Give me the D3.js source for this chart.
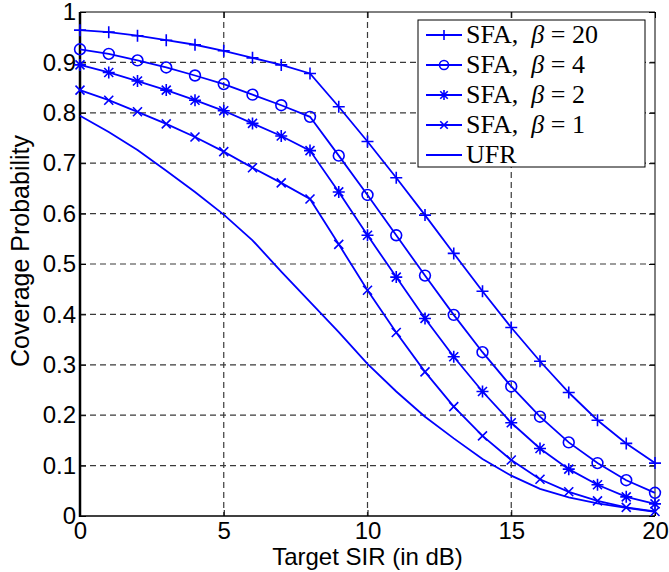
<!DOCTYPE html>
<html>
<head>
<meta charset="utf-8">
<script src="https://cdn.jsdelivr.net/npm/d3@7"></script>
<style>
  body { margin: 0; background: #fff; }
  svg { display: block; }
</style>
</head>
<body>
<script>
'use strict';

// target SIR in dB
const sir = [0, 1, 2, 3, 4, 5, 6, 7, 8, 9, 10, 11, 12, 13, 14, 15, 16, 17, 18, 19, 20];

// coverage probability for each scheme
const sfaBeta20 = [0.964, 0.960, 0.953, 0.944, 0.935, 0.923, 0.909, 0.895, 0.878, 0.812, 0.743, 0.671, 0.597, 0.521, 0.446, 0.374, 0.307, 0.245, 0.190, 0.144, 0.105];
const sfaBeta4  = [0.926, 0.917, 0.904, 0.890, 0.874, 0.857, 0.836, 0.815, 0.792, 0.715, 0.637, 0.557, 0.477, 0.399, 0.325, 0.257, 0.197, 0.146, 0.105, 0.071, 0.046];
const sfaBeta2  = [0.895, 0.880, 0.863, 0.845, 0.825, 0.804, 0.779, 0.754, 0.725, 0.643, 0.557, 0.474, 0.392, 0.316, 0.247, 0.185, 0.134, 0.093, 0.062, 0.038, 0.024];
const sfaBeta1  = [0.845, 0.825, 0.802, 0.778, 0.752, 0.723, 0.691, 0.661, 0.629, 0.539, 0.448, 0.364, 0.286, 0.217, 0.159, 0.111, 0.073, 0.048, 0.030, 0.017, 0.009];
const ufr       = [0.794, 0.762, 0.726, 0.685, 0.643, 0.598, 0.547, 0.485, 0.425, 0.365, 0.302, 0.247, 0.197, 0.154, 0.113, 0.080, 0.054, 0.037, 0.025, 0.016, 0.008];

const seriesNames = ['SFA, \u03b2 = 20', 'SFA, \u03b2 = 4', 'SFA, \u03b2 = 2', 'SFA, \u03b2 = 1', 'UFR'];
const seriesMarks = ['plus', 'circle', 'star', 'cross', 'none'];
const seriesVals  = [sfaBeta20, sfaBeta4, sfaBeta2, sfaBeta1, ufr];

const xTicks = [0, 5, 10, 15, 20];
const yTicks = [0, 0.1, 0.2, 0.3, 0.4, 0.5, 0.6, 0.7, 0.8, 0.9, 1];

(function() {

  const W = 669, H = 572;
  const pLeft = 80, pRight = 655, pTop = 12, pBottom = 516;
  const blue = '#0000ff';

  let svg = d3.select('body').append('svg')
    .attr('width', W)
    .attr('height', H);

  let x = d3.scaleLinear().domain([0, 20]).range([pLeft, pRight]);
  let y = d3.scaleLinear().domain([0, 1]).range([pBottom, pTop]);

  // dashed grid
  let grid = svg.append('g');
  grid.selectAll('.gx')
    .data(xTicks.filter((d) => d > 0 && d < 20))
    .enter().append('line')
    .attr('x1', (d) => x(d)).attr('x2', (d) => x(d))
    .attr('y1', pTop).attr('y2', pBottom)
    .attr('stroke', '#3a3a3a').attr('stroke-width', 1.2)
    .attr('stroke-dasharray', '6,4');
  grid.selectAll('.gy')
    .data(yTicks.filter((d) => d > 0 && d < 1))
    .enter().append('line')
    .attr('x1', pLeft).attr('x2', pRight)
    .attr('y1', (d) => y(d)).attr('y2', (d) => y(d))
    .attr('stroke', '#3a3a3a').attr('stroke-width', 1.2)
    .attr('stroke-dasharray', '6,4');

  // axes with inward ticks
  let xAxis = d3.axisBottom(x).tickValues(xTicks).tickSize(-6).tickPadding(8).tickFormat(d3.format('d'));
  let gx = svg.append('g').attr('transform', `translate(0,${pBottom})`).call(xAxis);
  let yAxis = d3.axisLeft(y).tickValues(yTicks).tickSize(-6).tickPadding(4)
    .tickFormat((d) => d === 0 ? '0' : d === 1 ? '1' : d3.format('.1f')(d));
  let gy = svg.append('g').attr('transform', `translate(${pLeft},0)`).call(yAxis);

  // top and right ticks
  let xTopAxis = d3.axisTop(x).tickValues(xTicks).tickSize(-6).tickFormat('');
  svg.append('g').attr('transform', `translate(0,${pTop})`).call(xTopAxis);
  let yRightAxis = d3.axisRight(y).tickValues(yTicks).tickSize(-6).tickFormat('');
  svg.append('g').attr('transform', `translate(${pRight},0)`).call(yRightAxis);

  svg.selectAll('.domain').remove();
  svg.selectAll('.tick line').attr('stroke', '#000').attr('stroke-width', 1);
  [gx, gy].forEach((g) => g.selectAll('text')
    .attr('fill', '#000')
    .style('font-family', '"Liberation Sans", Arial, sans-serif')
    .style('font-size', '24px'));
  gx.selectAll('text').attr('dy', '0.62em');

  // box
  svg.append('line').attr('x1', pLeft).attr('x2', pRight).attr('y1', pTop).attr('y2', pTop)
    .attr('stroke', '#000').attr('stroke-width', 1);
  svg.append('line').attr('x1', pRight).attr('x2', pRight).attr('y1', pTop).attr('y2', pBottom)
    .attr('stroke', '#000').attr('stroke-width', 1);
  svg.append('line').attr('x1', pLeft).attr('x2', pRight).attr('y1', pBottom).attr('y2', pBottom)
    .attr('stroke', '#000').attr('stroke-width', 1.6);
  svg.append('line').attr('x1', pLeft).attr('x2', pLeft).attr('y1', pTop).attr('y2', pBottom + 1)
    .attr('stroke', '#000').attr('stroke-width', 2.5);

  // marker drawing
  function drawMarker(g, kind, cx, cy, s) {
    let m = g.append('g').attr('transform', `translate(${cx},${cy})`)
      .attr('stroke', blue).attr('stroke-width', 1.6).attr('fill', 'none');
    if (kind === 'plus') {
      m.append('path').attr('d', `M${-s},0H${s}M0,${-s}V${s}`);
    } else if (kind === 'circle') {
      m.append('circle').attr('r', s * 0.9);
    } else if (kind === 'cross') {
      let a = s * 0.75;
      m.append('path').attr('d', `M${-a},${-a}L${a},${a}M${-a},${a}L${a},${-a}`);
    } else if (kind === 'star') {
      let a = s * 0.75;
      m.append('path').attr('d', `M${-s},0H${s}M0,${-s}V${s}M${-a},${-a}L${a},${a}M${-a},${a}L${a},${-a}`);
    }
  }

  let line = d3.line()
    .x((d, i) => x(sir[i]))
    .y((d) => y(d));

  let plot = svg.append('g');
  seriesVals.forEach((vals, k) => {
    plot.append('path')
      .attr('d', line(vals))
      .attr('fill', 'none')
      .attr('stroke', blue)
      .attr('stroke-width', 1.8);
    if (seriesMarks[k] !== 'none') {
      vals.forEach((v, i) => drawMarker(plot, seriesMarks[k], x(sir[i]), y(v), 6));
    }
  });

  // axis labels
  svg.append('text')
    .attr('x', (pLeft + pRight) / 2)
    .attr('y', 565)
    .attr('text-anchor', 'middle')
    .style('font-family', '"Liberation Sans", Arial, sans-serif')
    .style('font-size', '24px')
    .text('Target SIR (in dB)');

  svg.append('text')
    .attr('transform', 'translate(29,251)rotate(-90)')
    .attr('text-anchor', 'middle')
    .style('font-family', '"Liberation Sans", Arial, sans-serif')
    .style('font-size', '25px')
    .text('Coverage Probability');

  // legend
  let lg = svg.append('g');
  lg.append('rect')
    .attr('x', 418).attr('y', 20)
    .attr('width', 227).attr('height', 147)
    .attr('fill', '#fff').attr('stroke', '#000').attr('stroke-width', 1);

  seriesNames.forEach((name, k) => {
    let ly = 35 + k * 30;
    lg.append('line')
      .attr('x1', 426).attr('x2', 462)
      .attr('y1', ly).attr('y2', ly)
      .attr('stroke', blue).attr('stroke-width', 1.8);
    if (seriesMarks[k] !== 'none') drawMarker(lg, seriesMarks[k], 444, ly, 5);
    let t = lg.append('text')
      .attr('x', 466).attr('y', ly + 8)
      .style('font-family', '"Liberation Serif", "Times New Roman", serif')
      .style('font-size', '26px')
      .attr('fill', '#000');
    if (k < 4) {
      let parts = name.split('\u03b2');
      t.append('tspan').text(parts[0] + '\u00a0');
      t.append('tspan').style('font-style', 'italic').text('\u03b2');
      t.append('tspan').text(parts[1].replace(/ /g, '\u00a0'));
    } else {
      t.text(name);
    }
  });

})();
</script>
</body>
</html>
